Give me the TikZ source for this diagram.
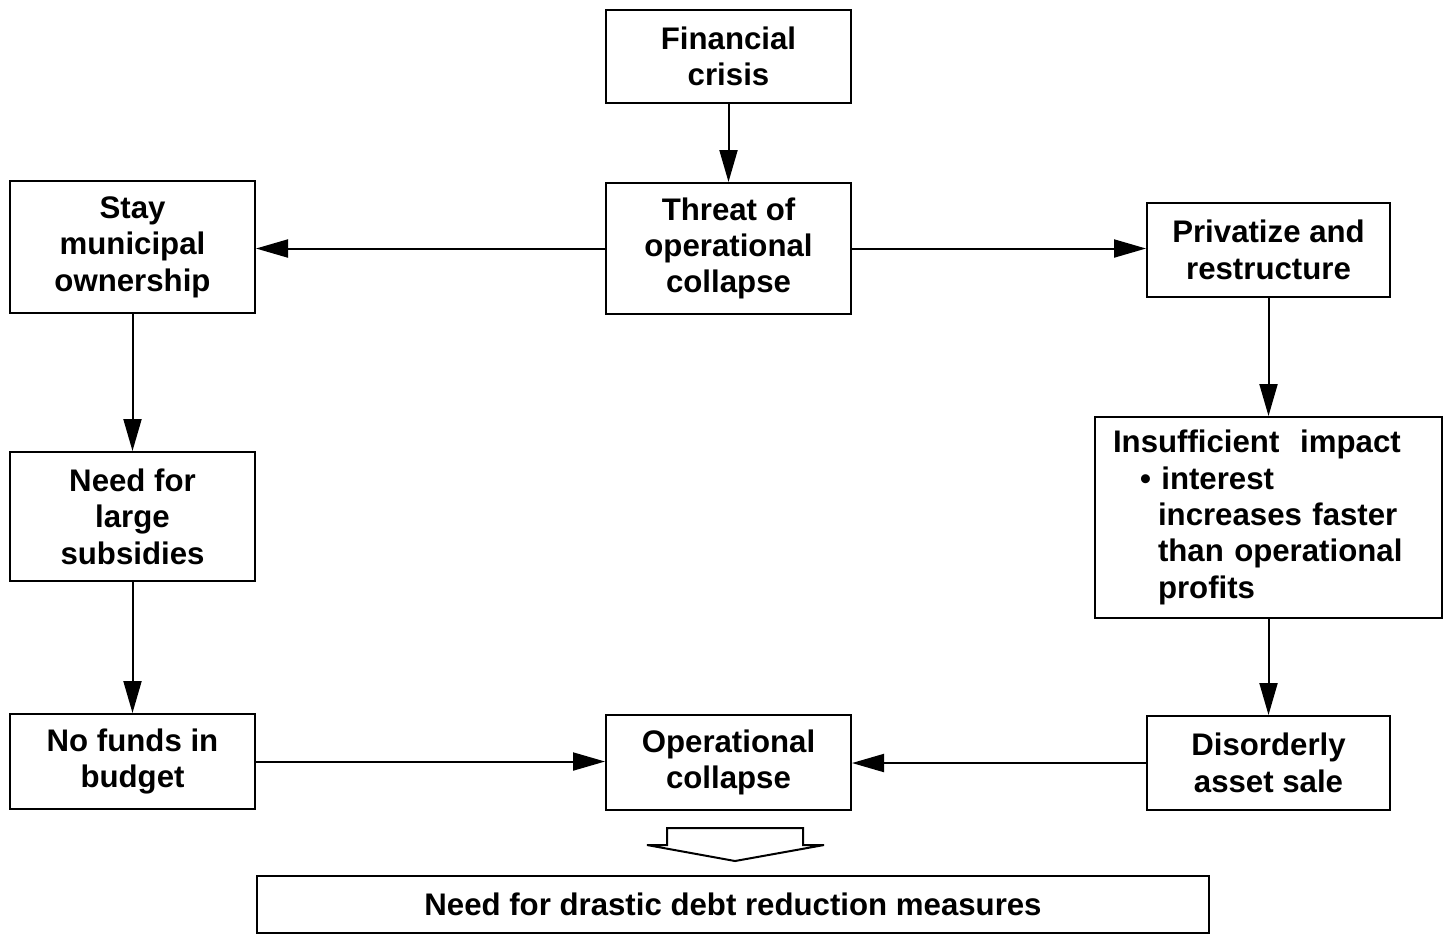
\documentclass[tikz,border=0pt]{standalone}
\usepackage{fontspec}
\setmainfont{Liberation Sans}
\usetikzlibrary{arrows.meta}
\begin{document}
\begin{tikzpicture}[x=0.5pt,y=-0.5pt,
  font=\bfseries\fontsize{15.6}{18.2}\selectfont,
  box/.style={draw,line width=1pt,rectangle,align=center,inner sep=2pt,
    minimum width=122.5pt},
  flow/.style={draw,line width=1pt,-{Triangle[length=16pt,width=9pt]}},
  bigarrow/.style={draw,line width=1pt,fill=white,line join=miter}]
\useasboundingbox (0,0) rectangle (1443,934);

% boxes
\node[box,minimum height=46.5pt] (fin) at (728.5,56.5) {Financial\\crisis};
\node[box,minimum height=65.5pt] (threat) at (728.5,248.5) {Threat of\\operational\\collapse};
\node[box,minimum height=66pt] (stay) at (132.5,247) {Stay\\municipal\\ownership};
\node[box,minimum width=121.5pt,minimum height=47pt] (priv) at (1268.5,250) {Privatize and\\restructure};
\node[box,minimum height=64.5pt] (need) at (132.5,516.5) {Need for\\large\\subsidies};
\node[box,align=left,inner xsep=9pt,text width=155.5pt,minimum width=173.5pt,
  minimum height=100.5pt] (insuf) at (1268.5,517.5)
  {Insufficient\ \ impact\\
   \hspace*{13.5pt}\textbullet\ interest\\
   \hspace*{22.5pt}increases faster\\
   \hspace*{22.5pt}than operational\\
   \hspace*{22.5pt}profits};
\node[box,minimum height=47.5pt] (nofunds) at (132.5,761.5) {No funds in\\budget};
\node[box,minimum height=47.5pt] (opc) at (728.5,762.5) {Operational\\collapse};
\node[box,minimum width=121.5pt,minimum height=47pt] (dis) at (1268.5,763) {Disorderly\\asset sale};
\node[box,minimum width=476pt,minimum height=28.5pt] (result) at (733,904.5)
  {Need for drastic debt reduction measures};

% connectors
\draw[flow] (fin.south) -- (fin.south |- threat.north);
\draw[flow] (threat.west) -- (threat.west -| stay.east);
\draw[flow] (threat.east) -- (threat.east -| priv.west);
\draw[flow] (stay.south) -- (need.north);
\draw[flow] (need.south) -- (nofunds.north);
\draw[flow] (priv.south) -- (priv.south |- insuf.north);
\draw[flow] (insuf.south) -- (insuf.south |- dis.north);
\draw[flow] (nofunds.east) -- (nofunds.east -| opc.west);
\draw[flow] (dis.west) -- (dis.west -| opc.east);

% hollow block arrow towards the conclusion
\coordinate (tip) at (735,861);
\draw[bigarrow] (667,845) -- (667,828) -- (803,828) -- (803,845)
  -- (824,845) -- (tip) -- (647,845) -- cycle;
\end{tikzpicture}
\end{document}
